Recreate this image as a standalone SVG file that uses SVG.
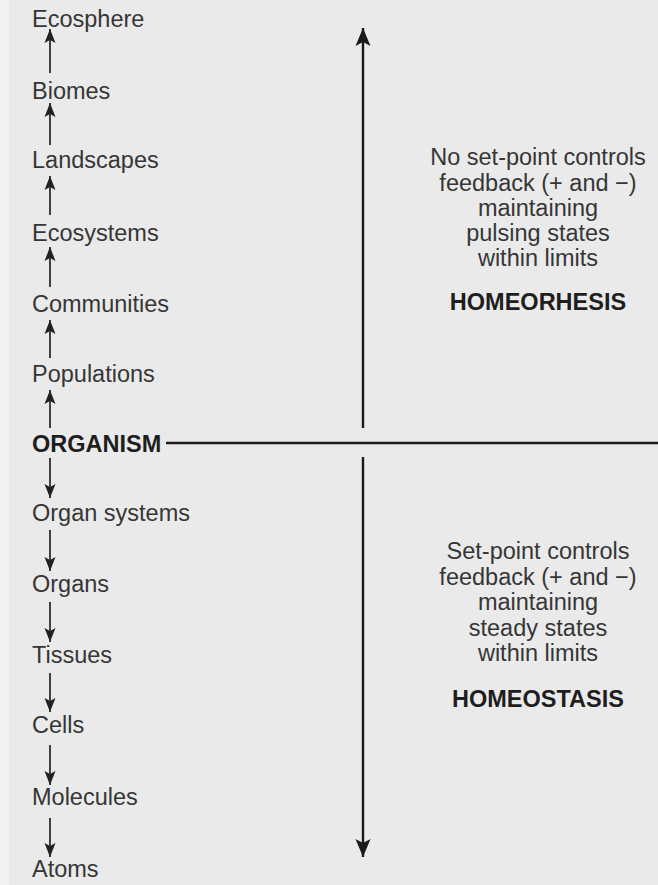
<svg xmlns="http://www.w3.org/2000/svg" width="658" height="885" viewBox="0 0 658 885">
  <style>
    .lbl { font-family: "Liberation Sans", Arial, sans-serif; font-size: 23.5px; fill: #363636; }
    .bold { font-weight: bold; fill: #1e1e1e; }
    .mid { text-anchor: middle; }
    .small { stroke: #222; stroke-width: 1.7; fill: none; }
    .main { stroke: #1a1a1a; stroke-width: 2.4; fill: none; }
  </style>
  <defs>
    <marker id="sh" markerUnits="userSpaceOnUse" markerWidth="16" markerHeight="14" viewBox="0 -7 16 14" refX="14" refY="0" orient="auto">
      <path d="M0,-5.5 L14,0 L0,5.5 L3,0 Z" fill="#222"/>
    </marker>
    <marker id="bh" markerUnits="userSpaceOnUse" markerWidth="20" markerHeight="16" viewBox="0 -8 20 16" refX="18" refY="0" orient="auto">
      <path d="M0,-7.5 L18,0 L0,7.5 L4,0 Z" fill="#1a1a1a"/>
    </marker>
  </defs>
  <rect x="0" y="0" width="658" height="885" fill="#eaeaea"/>
  <rect x="0" y="0" width="9" height="885" fill="#f1f1f1"/>

  <g id="ecosphere"><text class="lbl" x="32" y="27">Ecosphere</text></g>
  <g id="biomes"><text class="lbl" x="32" y="99">Biomes</text></g>
  <g id="landscapes"><text class="lbl" x="32" y="168">Landscapes</text></g>
  <g id="ecosystems"><text class="lbl" x="32" y="241">Ecosystems</text></g>
  <g id="communities"><text class="lbl" x="32" y="312">Communities</text></g>
  <g id="populations"><text class="lbl" x="32" y="382">Populations</text></g>
  <g id="organism"><text class="lbl bold" x="32" y="452">ORGANISM</text></g>
  <g id="organ-systems"><text class="lbl" x="32" y="521">Organ systems</text></g>
  <g id="organs"><text class="lbl" x="32" y="592">Organs</text></g>
  <g id="tissues"><text class="lbl" x="32" y="663">Tissues</text></g>
  <g id="cells"><text class="lbl" x="32" y="733">Cells</text></g>
  <g id="molecules"><text class="lbl" x="32" y="805">Molecules</text></g>
  <g id="atoms"><text class="lbl" x="32" y="877">Atoms</text></g>

  <g id="homeorhesis">
    <text class="lbl mid" x="538" y="165">No set-point controls</text>
    <text class="lbl mid" x="538" y="191">feedback (+ and −)</text>
    <text class="lbl mid" x="538" y="216">maintaining</text>
    <text class="lbl mid" x="538" y="241">pulsing states</text>
    <text class="lbl mid" x="538" y="266">within limits</text>
    <text class="lbl mid bold" x="538" y="310">HOMEORHESIS</text>
  </g>
  <g id="homeostasis">
    <text class="lbl mid" x="538" y="559">Set-point controls</text>
    <text class="lbl mid" x="538" y="585">feedback (+ and −)</text>
    <text class="lbl mid" x="538" y="610">maintaining</text>
    <text class="lbl mid" x="538" y="636">steady states</text>
    <text class="lbl mid" x="538" y="661">within limits</text>
    <text class="lbl mid bold" x="538" y="707">HOMEOSTASIS</text>
  </g>

  <g id="connectors">
    <line class="small" x1="50" y1="73" x2="50" y2="29" marker-end="url(#sh)"/>
    <line class="small" x1="50" y1="145" x2="50" y2="103" marker-end="url(#sh)"/>
    <line class="small" x1="50" y1="215" x2="50" y2="176" marker-end="url(#sh)"/>
    <line class="small" x1="50" y1="287" x2="50" y2="247" marker-end="url(#sh)"/>
    <line class="small" x1="50" y1="358" x2="50" y2="320" marker-end="url(#sh)"/>
    <line class="small" x1="50" y1="428" x2="50" y2="390" marker-end="url(#sh)"/>
    <line class="small" x1="50" y1="458" x2="50" y2="498" marker-end="url(#sh)"/>
    <line class="small" x1="50" y1="530" x2="50" y2="571" marker-end="url(#sh)"/>
    <line class="small" x1="50" y1="602" x2="50" y2="642" marker-end="url(#sh)"/>
    <line class="small" x1="50" y1="673" x2="50" y2="712" marker-end="url(#sh)"/>
    <line class="small" x1="50" y1="745" x2="50" y2="785" marker-end="url(#sh)"/>
    <line class="small" x1="50" y1="818" x2="50" y2="857" marker-end="url(#sh)"/>
    <line class="main" x1="166" y1="443" x2="658" y2="443"/>
    <line class="main" x1="363" y1="428" x2="363" y2="28" marker-end="url(#bh)"/>
    <line class="main" x1="363" y1="457" x2="363" y2="857" marker-end="url(#bh)"/>
  </g>
</svg>
